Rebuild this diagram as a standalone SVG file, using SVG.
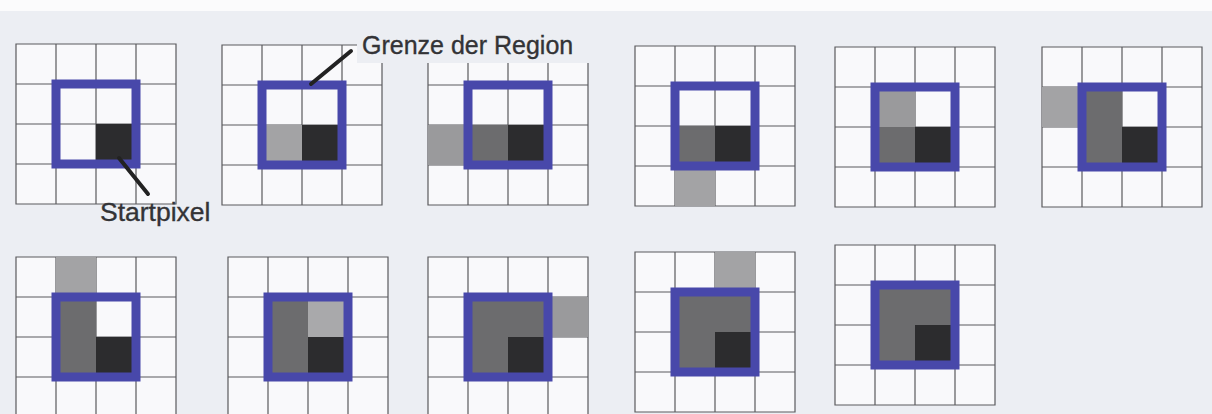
<svg xmlns="http://www.w3.org/2000/svg" width="1212" height="414" viewBox="0 0 1212 414">
  <style>
    .page { fill: #eceef3; }
    .gridbg { fill: #f9f9fb; }
    .gl { stroke: #5a5a5e; stroke-width: 1.2; fill: none; }
    .dark { fill: #2c2c2e; }
    .med { fill: #6c6c6e; }
    .light { fill: #a3a3a5; }
    .region { fill: none; stroke: #4848aa; stroke-width: 9; }
    .label { font-family: "Liberation Sans", Arial, sans-serif; font-size: 25px; fill: #333336; stroke: #333336; stroke-width: 0.35; }
    .leader { stroke: #222; stroke-width: 4; stroke-linecap: round; }
  </style>
  <defs>
    <g id="grid">
      <rect class="gridbg" x="0" y="0" width="160" height="160"/>
      <path class="gl" d="M0 0H160V160H0Z M40 0V160 M80 0V160 M120 0V160 M0 40H160 M0 80H160 M0 120H160"/>
    </g>
    <rect id="reg" class="region" x="40" y="40" width="80" height="80"/>
  </defs>

  <rect class="page" x="0" y="0" width="1212" height="414"/>
  <rect x="0" y="0" width="1212" height="11" fill="#fbfbfc"/>

  <g id="panel1" transform="translate(16,44)">
    <use href="#grid"/>
    <rect class="dark" x="80" y="80" width="40" height="40"/>
    <use href="#reg"/>
  </g>

  <g id="panel2" transform="translate(222,45)">
    <use href="#grid"/>
    <rect class="light" x="40" y="80" width="40" height="40"/>
    <rect class="dark" x="80" y="80" width="40" height="40"/>
    <use href="#reg"/>
  </g>

  <g id="panel3" transform="translate(428,45)">
    <use href="#grid"/>
    <rect class="light" x="0" y="80" width="40" height="40" style="fill:#9a9a9c"/>
    <rect class="med" x="40" y="80" width="40" height="40"/>
    <rect class="dark" x="80" y="80" width="40" height="40"/>
    <use href="#reg"/>
  </g>

  <g id="panel4" transform="translate(635,46)">
    <use href="#grid"/>
    <rect class="med" x="40" y="80" width="40" height="40"/>
    <rect class="dark" x="80" y="80" width="40" height="40"/>
    <rect class="light" x="40" y="120" width="40" height="40"/>
    <use href="#reg"/>
  </g>

  <g id="panel5" transform="translate(835,47)">
    <use href="#grid"/>
    <rect class="light" x="40" y="40" width="40" height="40" style="fill:#9a9a9c"/>
    <rect class="med" x="40" y="80" width="40" height="40"/>
    <rect class="dark" x="80" y="80" width="40" height="40"/>
    <use href="#reg"/>
  </g>

  <g id="panel6" transform="translate(1042,47)">
    <use href="#grid"/>
    <rect class="light" x="0" y="40" width="40" height="40"/>
    <rect class="med" x="40" y="40" width="40" height="40"/>
    <rect class="med" x="40" y="80" width="40" height="40"/>
    <rect class="dark" x="80" y="80" width="40" height="40"/>
    <use href="#reg"/>
  </g>

  <g id="panel7" transform="translate(16,257)">
    <use href="#grid"/>
    <rect class="light" x="40" y="0" width="40" height="40"/>
    <rect class="med" x="40" y="40" width="40" height="40"/>
    <rect class="med" x="40" y="80" width="40" height="40"/>
    <rect class="dark" x="80" y="80" width="40" height="40"/>
    <use href="#reg"/>
  </g>

  <g id="panel8" transform="translate(228,257)">
    <use href="#grid"/>
    <rect class="med" x="40" y="40" width="40" height="40"/>
    <rect class="med" x="40" y="80" width="40" height="40"/>
    <rect class="light" x="80" y="40" width="40" height="40" style="fill:#a9a9ab"/>
    <rect class="dark" x="80" y="80" width="40" height="40"/>
    <use href="#reg"/>
  </g>

  <g id="panel9" transform="translate(428,257)">
    <use href="#grid"/>
    <rect class="med" x="40" y="40" width="80" height="40"/>
    <rect class="med" x="40" y="80" width="40" height="40"/>
    <rect class="dark" x="80" y="80" width="40" height="40"/>
    <rect class="light" x="120" y="40" width="40" height="40" style="fill:#9a9a9c"/>
    <use href="#reg"/>
  </g>

  <g id="panel10" transform="translate(635,252)">
    <use href="#grid"/>
    <rect class="light" x="80" y="0" width="40" height="40"/>
    <rect class="med" x="40" y="40" width="80" height="40"/>
    <rect class="med" x="40" y="80" width="40" height="40"/>
    <rect class="dark" x="80" y="80" width="40" height="40"/>
    <use href="#reg"/>
  </g>

  <g id="panel11" transform="translate(835,245)">
    <use href="#grid"/>
    <rect class="med" x="40" y="40" width="80" height="40"/>
    <rect class="med" x="40" y="80" width="40" height="40"/>
    <rect class="dark" x="80" y="80" width="40" height="40"/>
    <use href="#reg"/>
  </g>

  <g id="label-grenze">
    <rect class="page" x="357" y="28" width="232" height="35"/>
    <text class="label" x="362" y="54">Grenze der Region</text>
  </g>

  <g id="label-start">
    <text class="label" x="100" y="221" style="font-size:26.5px">Startpixel</text>
  </g>

  <g id="connectors">
    <line class="leader" x1="351" y1="51" x2="311" y2="84"/>
    <line class="leader" x1="119" y1="158" x2="148" y2="194"/>
  </g>
</svg>
